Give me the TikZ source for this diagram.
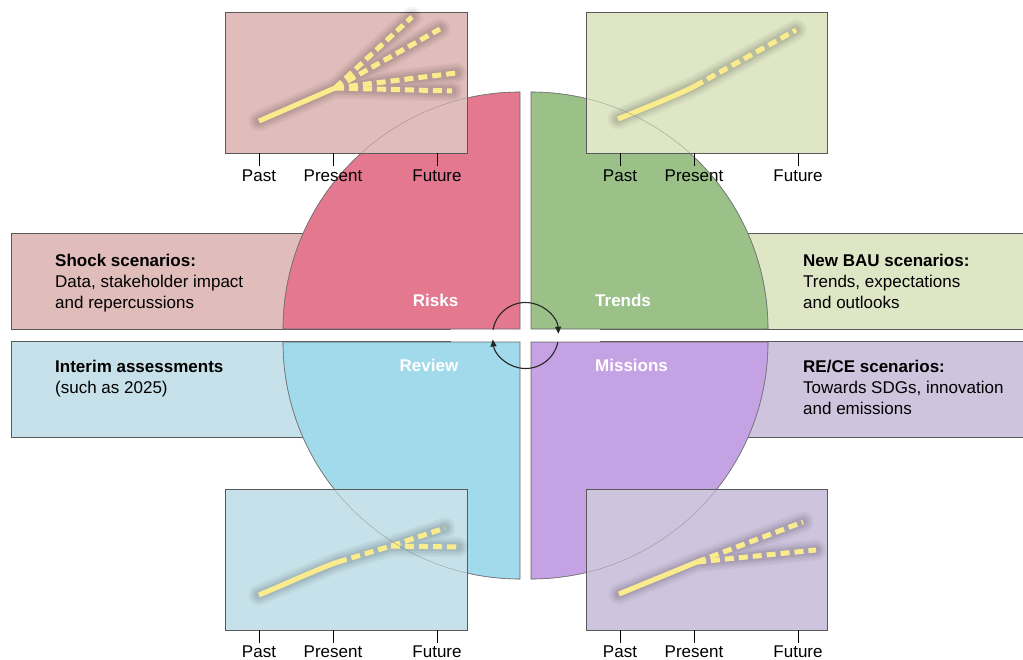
\documentclass[tikz,border=0pt]{standalone}
\usepackage{fontspec}
\setmainfont{Liberation Sans}
\usetikzlibrary{arrows.meta}
\definecolor{riskQ}{RGB}{228,120,143}
\definecolor{trendQ}{RGB}{155,193,137}
\definecolor{reviewQ}{RGB}{160,218,235}
\definecolor{missionQ}{RGB}{196,162,228}
\definecolor{riskB}{RGB}{224,188,186}
\definecolor{trendB}{RGB}{222,230,198}
\definecolor{reviewB}{RGB}{198,225,233}
\definecolor{missionB}{RGB}{207,196,222}
\definecolor{lineY}{RGB}{250,236,140}
\newcommand\glowit[1]{%
  \foreach \w/\o in {21/0.035,17/0.04,13/0.05,9/0.06}{%
    \draw[black,line width=\w pt,opacity=\o,line cap=round,line join=round] #1;}}
\begin{document}
\begin{tikzpicture}[x=1pt,y=-1pt,
  sidebox/.style={draw=black!65,line width=0.8pt},
  quad/.style={draw=black!60,line width=0.6pt},
  imgbox/.style={draw=black!65,line width=0.8pt},
  rim/.style={draw=black!50,line width=0.5pt,opacity=.6},
  yline/.style={draw=lineY,line width=5pt},
  ydash/.style={yline,dash pattern=on 9pt off 5pt},
  tickmark/.style={draw=black,line width=0.8pt},
  axlab/.style={font=\fontsize{17}{20}\selectfont,anchor=base,inner sep=0pt},
  qlab/.style={font=\fontsize{17}{20}\selectfont\bfseries,text=white,inner sep=0pt},
  sidetxt/.style={font=\fontsize{17}{21}\selectfont,align=left,anchor=base west,inner sep=0pt},
  cyc/.style={draw=black!85,line width=1.1pt,-{Triangle[length=7pt,width=6pt]}}
]
\useasboundingbox (0,0) rectangle (1023,659);
% side boxes
\filldraw[sidebox,fill=riskB] (11,233) rectangle (450,329);
\filldraw[sidebox,fill=reviewB] (11,341) rectangle (450,437);
\filldraw[sidebox,fill=trendB] (600,233) rectangle (1030,329);
\filldraw[sidebox,fill=missionB] (600,341) rectangle (1030,437);
% quadrants
\filldraw[quad,fill=riskQ] (520,329) -- (283,329) arc[start angle=180,end angle=270,radius=237] -- cycle;
\filldraw[quad,fill=trendQ] (531,329) -- (531,92) arc[start angle=270,end angle=360,radius=237] -- cycle;
\filldraw[quad,fill=missionQ] (531,342) -- (768,342) arc[start angle=0,end angle=90,radius=237] -- cycle;
\filldraw[quad,fill=reviewQ] (520,342) -- (520,579) arc[start angle=90,end angle=180,radius=237] -- cycle;
% image boxes
\filldraw[imgbox,fill=riskB] (225,12) rectangle (467,153);
\filldraw[imgbox,fill=trendB] (586,12) rectangle (827,153);
\filldraw[imgbox,fill=reviewB] (225,489) rectangle (467,630);
\filldraw[imgbox,fill=missionB] (586,489) rectangle (827,630);
% top-left lines
\glowit{(259,121) -- (335,88) -- (412,17) (335,88) -- (440,29) (335,88) -- (456,73) (335,88) -- (452,91)}
\draw[yline] (259,121) -- (335,88);
\draw[ydash] (335,88) -- (412,17);
\draw[ydash] (335,88) -- (440,29);
\draw[ydash] (335,88) -- (456,73);
\draw[ydash] (335,88) -- (452,91);
% top-right lines
\glowit{(618,119) -- (695,86) -- (796,30)}
\draw[yline] (618,119) .. controls (650,106) and (680,94) .. (695,86);
\draw[ydash] (695,86) -- (796,30);
% bottom-left lines
\glowit{(259,595) -- (338,562) -- (391,546) -- (445,528) (391,546) -- (458,547)}
\draw[yline] (259,595) .. controls (290,582) and (320,568) .. (338,562);
\draw[ydash] (338,562) -- (391,546) -- (445,528);
\draw[ydash] (391,546) -- (458,547);
% bottom-right lines
\glowit{(619,594) -- (697,562) -- (803,522) (697,562) -- (816,550)}
\draw[yline] (619,594) -- (697,562);
\draw[ydash] (697,562) -- (803,522);
\draw[ydash] (697,562) -- (816,550);
% ticks and axis labels
\foreach \x in {259,333,437}{\draw[tickmark] (\x,153) -- (\x,166); \draw[tickmark] (\x,630) -- (\x,643);}
\foreach \x in {620,694,798}{\draw[tickmark] (\x,153) -- (\x,166); \draw[tickmark] (\x,630) -- (\x,643);}
\node[axlab] (tl1) at (259,181.5) {Past};
\node[axlab] (tl2) at (333,181.5) {Present};
\node[axlab] (tl3) at (437,181.5) {Future};
\node[axlab] (tr1) at (620,181.5) {Past};
\node[axlab] (tr2) at (694,181.5) {Present};
\node[axlab] (tr3) at (798,181.5) {Future};
\node[axlab] (bl1) at (259,657) {Past};
\node[axlab] (bl2) at (333,657) {Present};
\node[axlab] (bl3) at (437,657) {Future};
\node[axlab] (br1) at (620,657) {Past};
\node[axlab] (br2) at (694,657) {Present};
\node[axlab] (br3) at (798,657) {Future};
% rim arcs on top
\draw[rim] (283,329) arc[start angle=180,end angle=270,radius=237];
\draw[rim] (531,92) arc[start angle=270,end angle=360,radius=237];
\draw[rim] (768,342) arc[start angle=0,end angle=90,radius=237];
\draw[rim] (520,579) arc[start angle=90,end angle=180,radius=237];
% side texts (base anchor = last line baseline)
\node[sidetxt] (shock) at (55,308.5) {\textbf{Shock scenarios:}\\Data, stakeholder impact\\and repercussions};
\node[sidetxt] (interim) at (55,393.7) {\textbf{Interim assessments}\\(such as 2025)};
\node[sidetxt] (bau) at (803,308.5) {\textbf{New BAU scenarios:}\\Trends, expectations\\and outlooks};
\node[sidetxt] (rece) at (803,414.7) {\textbf{RE/CE scenarios:}\\Towards SDGs, innovation\\and emissions};
% quadrant labels
\node[qlab,anchor=base east] (risks) at (458.5,306.5) {Risks};
\node[qlab,anchor=base west] (trends) at (595,306.5) {Trends};
\node[qlab,anchor=base east] (review) at (458.5,371.5) {Review};
\node[qlab,anchor=base west] (missions) at (595,371.5) {Missions};
% central cycle
\coordinate (cc) at (525.5,335.5);
\draw[cyc] (cc) ++(190:33) arc[start angle=190,end angle=357,radius=33];
\draw[cyc] (cc) ++(12:33) arc[start angle=12,end angle=173,radius=33];
\end{tikzpicture}
\end{document}
